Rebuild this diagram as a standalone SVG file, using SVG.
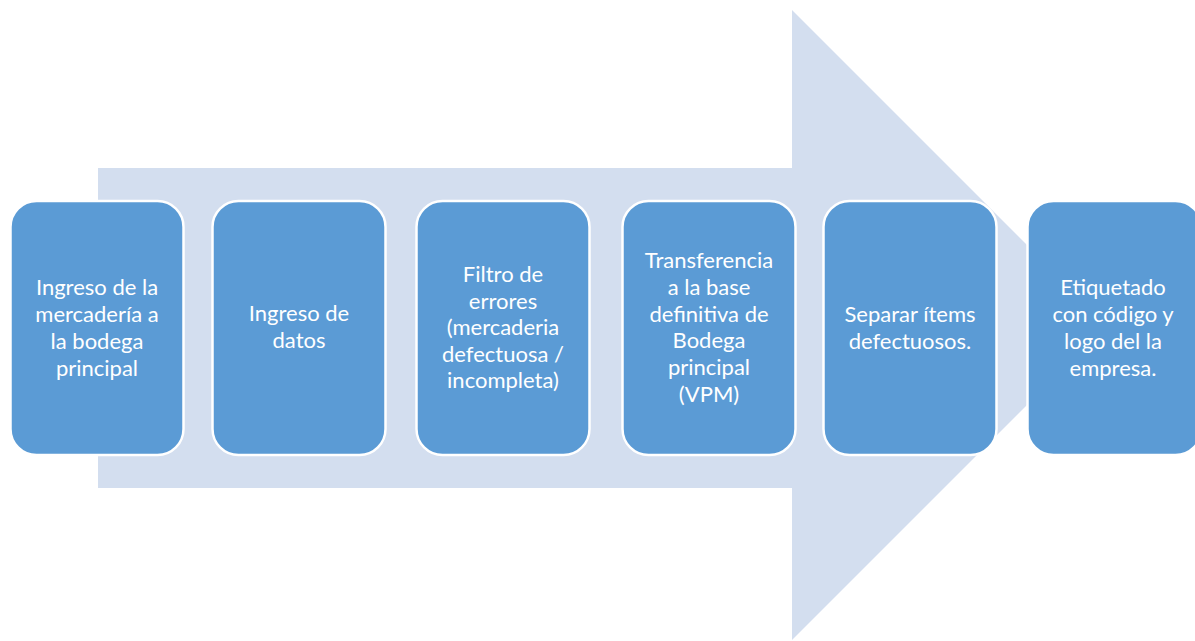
<svg xmlns="http://www.w3.org/2000/svg" width="1195" height="641" viewBox="0 0 1195 641">
<style>
.box{fill:#5B9BD5;stroke:#FFFFFF;stroke-width:2.5}
.t{font-family:Lato,"Open Sans","Liberation Sans",sans-serif;font-size:22px;fill:#FFFFFF;text-anchor:middle}
</style>
<rect width="1195" height="641" fill="#FFFFFF"/>
<g id="arrow">
<polygon points="98,168 792,168 792,10 1107,325 792,640 792,488 98,488" fill="#D3DEEF"/>
</g>
<g id="connectors"></g>
<g id="n1">
<rect class="box" x="10.5" y="201" width="173" height="254" rx="26"/>
<text class="t" x="97" y="295">Ingreso de la</text>
<text class="t" x="97" y="322">mercadería a</text>
<text class="t" x="97" y="349">la bodega</text>
<text class="t" x="97" y="376">principal</text>
</g>
<g id="n2">
<rect class="box" x="212.5" y="201" width="173" height="254" rx="26"/>
<text class="t" x="299" y="321">Ingreso de</text>
<text class="t" x="299" y="348">datos</text>
</g>
<g id="n3">
<rect class="box" x="416.5" y="201" width="173" height="254" rx="26"/>
<text class="t" x="503" y="282">Filtro de</text>
<text class="t" x="503" y="308.5">errores</text>
<text class="t" x="503" y="335">(mercaderia</text>
<text class="t" x="503" y="361.5">defectuosa /</text>
<text class="t" x="503" y="388">incompleta)</text>
</g>
<g id="n4">
<rect class="box" x="622.5" y="201" width="173" height="254" rx="26"/>
<text class="t" x="709" y="268">Transferencia</text>
<text class="t" x="709" y="295">a la base</text>
<text class="t" x="709" y="322">definitiva de</text>
<text class="t" x="709" y="348">Bodega</text>
<text class="t" x="709" y="375">principal</text>
<text class="t" x="709" y="402">(VPM)</text>
</g>
<g id="n5">
<rect class="box" x="823.5" y="201" width="173" height="254" rx="26"/>
<text class="t" x="910" y="322">Separar ítems</text>
<text class="t" x="910" y="349">defectuosos.</text>
</g>
<g id="n6">
<rect class="box" x="1027.5" y="201" width="174" height="254" rx="26"/>
<text class="t" x="1113" y="295">Etiquetado</text>
<text class="t" x="1113" y="322">con código y</text>
<text class="t" x="1113" y="349">logo del la</text>
<text class="t" x="1113" y="376">empresa.</text>
</g>
</svg>
